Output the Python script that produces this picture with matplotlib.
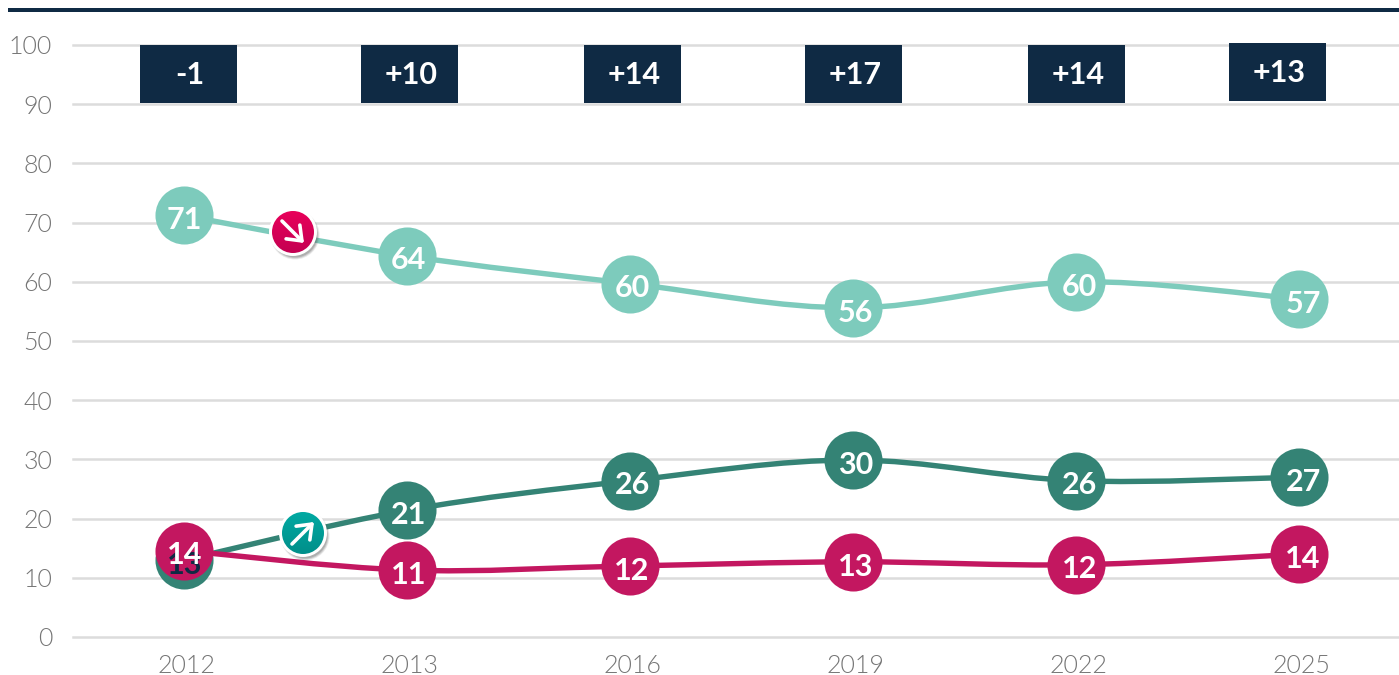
#!/usr/bin/env python3
"""
Line chart with delta boxes on top, 2012-2025.
"""
import numpy as np
import matplotlib
matplotlib.use('Agg')
import matplotlib.pyplot as plt
from matplotlib.colors import LinearSegmentedColormap
from matplotlib.patches import Circle, FancyArrowPatch, PathPatch, Rectangle
from matplotlib.path import Path
from matplotlib.transforms import Affine2D, ScaledTranslation

years = ['2012', '2013', '2016', '2019', '2022', '2025']
light_values = [71.2, 64.4, 59.7, 55.6, 60.0, 57.1]
dark_values = [13.0, 21.4, 26.4, 29.9, 26.4, 27.0]
pink_values = [14.6, 11.3, 12.0, 12.7, 12.2, 14.0]
light_labels = ['71', '64', '60', '56', '60', '57']
dark_labels = ['13', '21', '26', '30', '26', '27']
pink_labels = ['14', '11', '12', '13', '12', '14']
delta_labels = ['-1', '+10', '+14', '+17', '+14', '+13']

W, H = 1399, 675
NAVY = '#0f2a44'
LIGHT = '#7dcbbc'
DARK = '#348375'
PINK = '#c31760'

plt.rcParams['font.family'] = ['Lato', 'DejaVu Sans']
fig = plt.figure(figsize=(W / 100, H / 100), dpi=100, facecolor='white')
# pixel coordinates of the reference, y going down
px = Affine2D().scale(1 / W, -1 / H).translate(0, 1) + fig.transFigure

left, right, top, bottom = 73, 1399, 45, 637
ax = fig.add_axes([left / W, 1 - bottom / H, (right - left) / W, (bottom - top) / H])
ax.set_xlim((left - 184) / 223, (right - 184) / 223)
ax.set_ylim(0, 100)
ax.set_xticks(range(len(years)), years)
ax.set_yticks(range(0, 101, 10))
ax.tick_params(length=0, labelsize=18, labelcolor='#757575')
ax.tick_params(axis='x', pad=12)
ax.tick_params(axis='y', pad=15)
for label in ax.get_xticklabels() + ax.get_yticklabels():
    label.set_fontweight(300)
for label in ax.get_xticklabels():
    label.set_transform(label.get_transform() + ScaledTranslation(1.5 / 72, 0, fig.dpi_scale_trans))
for s in ax.spines.values():
    s.set_visible(False)
ax.grid(axis='y', color='#dcdcdc', lw=1.8)
for line in ax.get_ygridlines():
    line.set_clip_on(False)
ax.set_axisbelow(True)


def smooth_path(vals):
    # same kind of smoothing as an office chart: bezier through every point
    pts = np.column_stack([np.arange(len(vals)), vals]).astype(float)
    verts = [pts[0]]
    codes = [Path.MOVETO]
    for i in range(len(pts) - 1):
        prev = pts[max(i - 1, 0)]
        nxt = pts[min(i + 2, len(pts) - 1)]
        verts += [pts[i] + (pts[i + 1] - prev) / 6, pts[i + 1] - (nxt - pts[i]) / 6, pts[i + 1]]
        codes += [Path.CURVE4] * 3
    return Path(verts, codes)


def draw_series(vals, labels, color, z):
    ax.add_patch(PathPatch(smooth_path(vals), fc='none', ec=color, lw=3.9, zorder=z, capstyle='round'))
    ax.plot(range(len(vals)), vals, 'o', ms=41.8, mfc=color, mec='none', zorder=z + 0.1, clip_on=False)
    texts = []
    for i, (v, lab) in enumerate(zip(vals, labels)):
        # labels drift a little to the right of their circles, as in the original
        t = ax.annotate(lab, (i, v), xytext=(0.5 + 0.5 * i, -3.4), textcoords='offset points',
                        ha='center', va='center', color='white', fontsize=22, fontweight='bold',
                        zorder=z + 0.2)
        texts.append(t)
    return texts


def badge(cx, cy, c1, c2, pts, z):
    for r, a in [(24.5, 0.12), (23.5, 0.2), (22.5, 0.25)]:
        ax.add_artist(Circle((cx + 2, cy + 3), r, fc='#555555', alpha=a, ec='none', transform=px, zorder=z))
    ax.add_artist(Circle((cx, cy), 24, fc='white', ec='none', transform=px, zorder=z + 0.1))
    grad = LinearSegmentedColormap.from_list('g', [c1, c2])
    im = ax.imshow(np.linspace(0, 1, 64).reshape(-1, 1), cmap=grad, aspect='auto', zorder=z + 0.2,
                   extent=(cx - 21, cx + 21, cy + 21, cy - 21), transform=px)
    im.set_clip_path(Circle((cx, cy), 21, transform=px))
    ax.add_artist(FancyArrowPatch(pts[0], pts[1], transform=px, arrowstyle='->,head_length=6.5,head_width=5',
                                  color='white', lw=2.6, zorder=z + 0.3, shrinkA=0, shrinkB=0,
                                  mutation_scale=1.4, clip_on=False))


draw_series(light_values, light_labels, LIGHT, 3)
badge(293, 232, '#e8005a', '#c40052', ((282, 221), (304, 243)), 3.5)
dark_texts = draw_series(dark_values, dark_labels, DARK, 4)
badge(303, 533, '#00a9a2', '#008f8a', ((292, 544), (314, 522)), 4.5)
pink_texts = draw_series(pink_values, pink_labels, PINK, 5)
# the 13 of 2012 lies over the pink circle but under the 14
dark_texts[0].set_color(NAVY)
dark_texts[0].set_zorder(5.15)
ax.set_xlim((left - 184) / 223, (right - 184) / 223)
ax.set_ylim(0, 100)

# top rule
fig.add_artist(Rectangle((8, 8), W - 8, 4, fc=NAVY, ec='none', transform=px))

# delta boxes
box_left = [140, 361, 584, 805, 1028, 1229]
box_top = [45, 45, 45, 45, 45, 43]
for x0, y0, lab in zip(box_left, box_top, delta_labels):
    ax.add_artist(Rectangle((x0, y0), 97, 58, fc=NAVY, ec='none', transform=px, zorder=6, clip_on=False))
    ax.text(x0 + 50, y0 + 30, lab, color='white', fontsize=22, fontweight='bold', ha='center', va='center',
            transform=px, zorder=7)

fig.savefig('out.png', dpi=100)
